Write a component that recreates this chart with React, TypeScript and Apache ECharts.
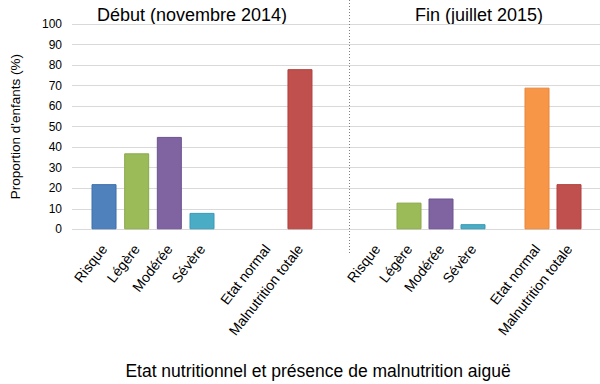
import React, { useEffect, useRef } from "react";
import * as echarts from "echarts";

const categories = ["Risque", "Légère", "Modérée", "Sévère", "", "Etat normal", "Malnutrition totale"];
const debutValues = [22, 37, 45, 8, 0, 0, 78];
const finValues = [0, 13, 15, 2.5, 0, 69, 22];
const yTicks = [0, 10, 20, 30, 40, 50, 60, 70, 80, 90, 100];
const groupTitles = ["Début (novembre 2014)", "Fin (juillet 2015)"];
const yAxisTitle = "Proportion d'enfants (%)";
const xAxisTitle = "Etat nutritionnel et présence de malnutrition aiguë";

const fillColors = ["#4f81bd", "#9bbb59", "#8064a2", "#4bacc6", "#ffffff", "#f79646", "#c0504d"];
const borderColors = ["#3c6eae", "#89a84a", "#6c5290", "#3a9ab5", "#ffffff", "#e8843a", "#b23f3c"];

const FONT = "'Liberation Sans', Arial, sans-serif";

export default function App() {
  const ref = useRef<HTMLDivElement>(null);
  useEffect(() => {
    if (!ref.current) return;
    const chart = echarts.init(ref.current, null, { renderer: "svg" });
    const top = 24;
    const bottom = 384 - 229.3;
    const mkData = (vals: number[]) =>
      vals.map((v, i) => ({
        value: v === 0 ? "-" : v,
        itemStyle: { color: fillColors[i], borderColor: borderColors[i], borderWidth: 1 },
      }));
    const catAxis = (gridIndex: number) => ({
      type: "category" as const,
      gridIndex,
      data: categories,
      axisLine: { show: false },
      axisTick: { show: false },
      axisLabel: {
        rotate: 52,
        interval: 0,
        margin: 17,
        color: "#000",
        fontSize: 14,
        fontFamily: FONT,
      },
    });
    const hiddenY = (gridIndex: number) => ({
      type: "value" as const,
      gridIndex,
      min: 0,
      max: 100,
      interval: 10,
      show: false,
    });
    chart.setOption({
      animation: false,
      grid: [
        { left: 68, right: 0, top, bottom },
        { left: 87.7, width: 228.6, top, bottom },
        { left: 361, width: 224, top, bottom },
      ],
      xAxis: [
        { type: "value", gridIndex: 0, min: 0, max: 1, show: false },
        catAxis(1),
        catAxis(2),
      ],
      yAxis: [
        {
          type: "value",
          gridIndex: 0,
          min: yTicks[0],
          max: yTicks[yTicks.length - 1],
          interval: 10,
          name: yAxisTitle,
          nameLocation: "middle",
          nameGap: 50,
          nameTextStyle: { color: "#000", fontSize: 13.5, fontFamily: FONT },
          axisLine: { show: false },
          axisTick: { show: false },
          axisLabel: { color: "#000", fontSize: 12, fontFamily: FONT, margin: 10 },
          splitLine: { lineStyle: { color: "#d9d9d9", width: 1 } },
        },
        hiddenY(1),
        hiddenY(2),
      ],
      series: [
        {
          type: "bar",
          xAxisIndex: 1,
          yAxisIndex: 1,
          barWidth: 25,
          data: mkData(debutValues),
        },
        {
          type: "bar",
          xAxisIndex: 2,
          yAxisIndex: 2,
          barWidth: 25,
          data: mkData(finValues),
        },
      ],
      graphic: [
        {
          type: "line",
          shape: { x1: 349.5, y1: 0, x2: 349.5, y2: 253 },
          style: { stroke: "#808080", lineWidth: 1, lineDash: [1, 2] },
          z: 10,
        },
        {
          type: "text",
          x: 192,
          y: 15,
          style: {
            text: groupTitles[0],
            fill: "#000",
            font: `18px ${FONT}`,
            textAlign: "center",
            textVerticalAlign: "middle",
          },
        },
        {
          type: "text",
          x: 479,
          y: 15,
          style: {
            text: groupTitles[1],
            fill: "#000",
            font: `18px ${FONT}`,
            textAlign: "center",
            textVerticalAlign: "middle",
          },
        },
        {
          type: "text",
          x: 318,
          y: 371,
          style: {
            text: xAxisTitle,
            fill: "#000",
            font: `17.5px ${FONT}`,
            textAlign: "center",
            textVerticalAlign: "middle",
          },
        },
      ],
    });
    return () => chart.dispose();
  }, []);
  return (
    <div
      ref={ref}
      style={{ position: "fixed", left: 0, top: 0, width: 600, height: 384, background: "#fff" }}
    />
  );
}
